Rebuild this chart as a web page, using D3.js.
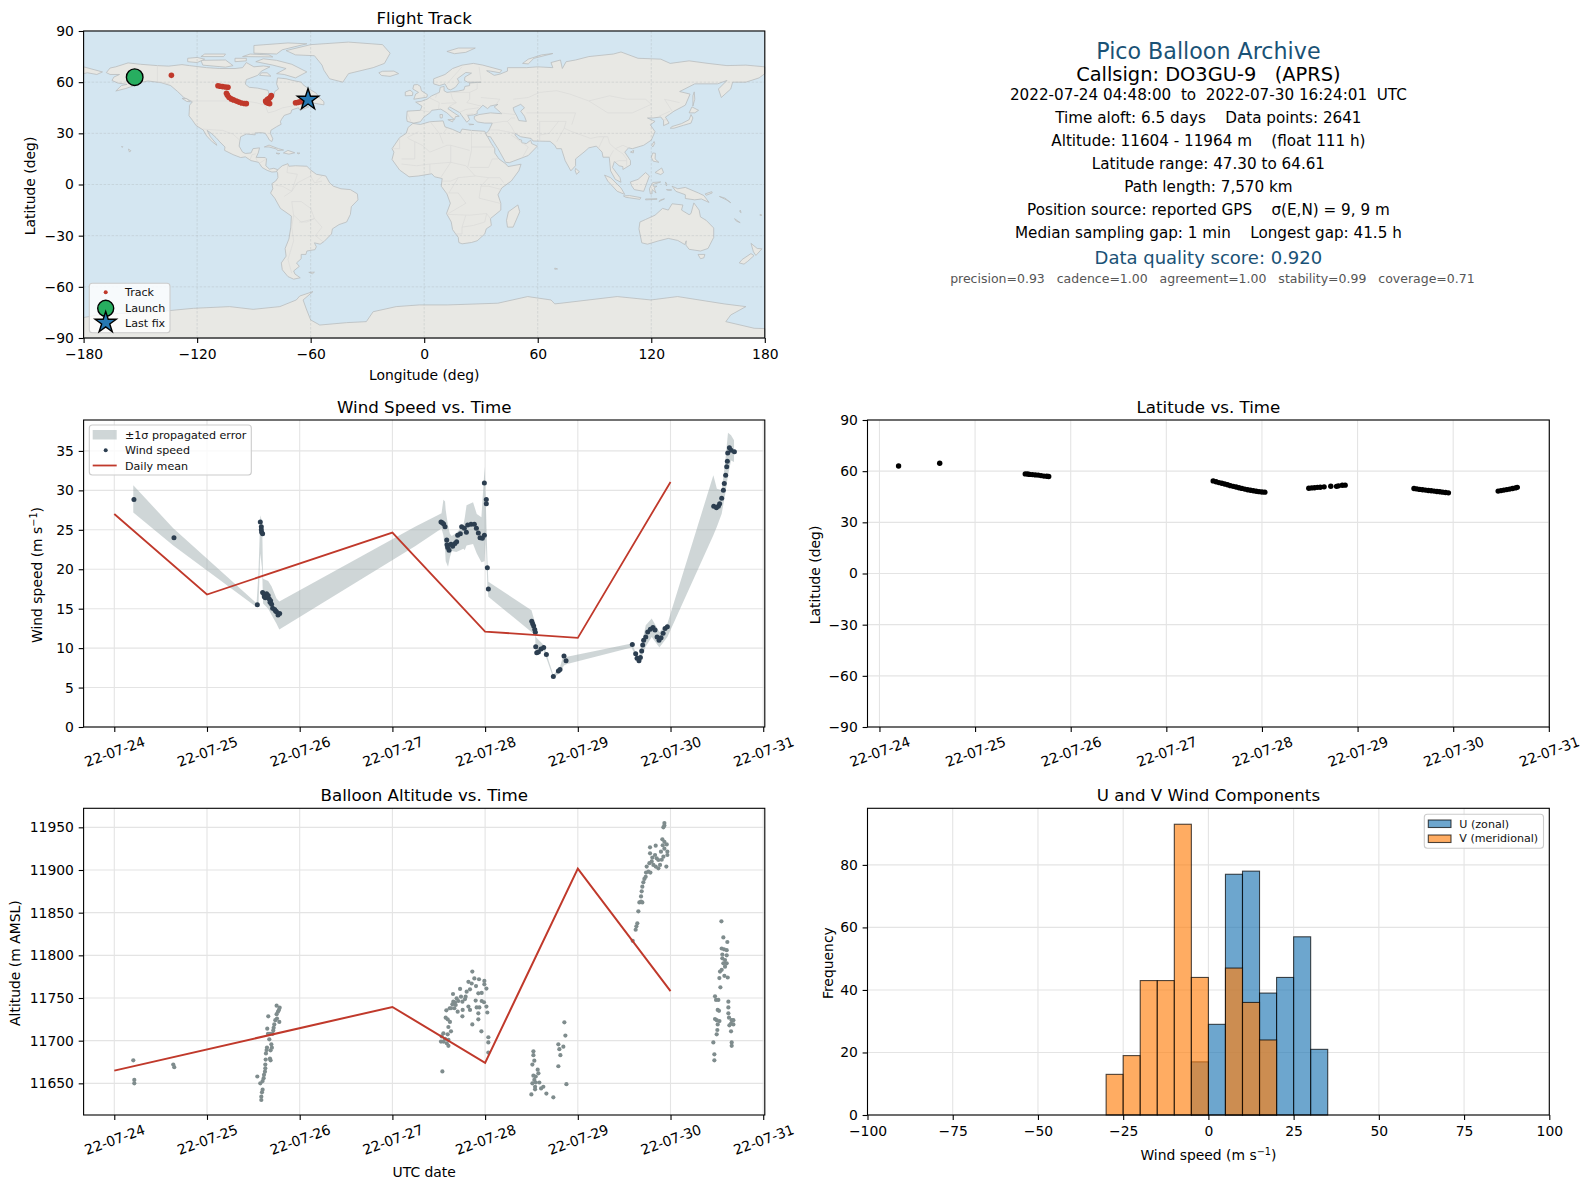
<!DOCTYPE html>
<html>
<head>
<meta charset="utf-8">
<script src="https://cdn.jsdelivr.net/npm/d3@7"></script>
<style>
  html, body { margin: 0; padding: 0; background: #fff; }
  svg { display: block; font-family: "DejaVu Sans", sans-serif; }
  text { white-space: pre; }
</style>
</head>
<body>
<svg id="fig" width="1589" height="1189"></svg>
<script>
// all times are days since 2022-07-24 00:00 UTC
var dayTicks = [0, 1, 2, 3, 4, 5, 6, 7];

// wind speed readings [day, m/s]
var windPoints = [[.212,28.83],[.644,24.0],[1.543,15.5],[1.575,26.0],[1.586,25.4],[1.586,25.0],[1.59,24.7],[1.60,24.5],
  [1.60,17.04],[1.615,16.83],[1.618,16.5],[1.629,16.4],[1.643,16.9],[1.65,16.5],[1.66,16.66],[1.672,16.24],[1.68,15.8],[1.686,16.0],
  [1.697,15.56],[1.708,15.06],[1.73,14.9],[1.74,14.7],[1.75,14.6],[1.766,14.2],[1.784,14.4],
  [3.524,26.0],[3.539,25.9],[3.553,25.75],[3.568,25.4],[3.586,23.7],[3.589,23.1],[3.596,22.75],[3.611,22.4],[3.632,23.17],[3.65,22.9],
  [3.675,23.25],[3.693,23.5],[3.704,24.3],[3.733,24.5],[3.747,25.4],[3.776,25.2],[3.798,24.7],[3.812,25.6],[3.848,25.7],[3.884,25.7],
  [3.906,25.2],[3.927,24.6],[3.945,24.0],[3.97,23.93],[3.992,24.3],[3.992,30.94],[4.013,28.83],[4.013,28.3],[4.024,20.2],[4.035,17.5],
  [4.503,13.4],[4.513,13.1],[4.524,12.8],[4.535,12.35],[4.542,12.0],[4.546,10.16],[4.557,9.4],[4.575,9.5],[4.603,9.9],[4.632,10.07],
  [4.661,9.2],[4.736,6.4],[4.79,7.1],[4.808,7.3],[4.851,9.0],[4.873,8.4],
  [5.588,10.45],[5.624,9.3],[5.639,8.7],[5.66,8.4],[5.675,8.8],[5.689,9.65],[5.70,10.4],[5.71,11.0],[5.733,11.4],[5.754,12.05],
  [5.783,12.4],[5.811,12.6],[5.833,12.3],[5.855,11.4],[5.876,11.0],[5.898,11.3],[5.92,11.9],[5.941,12.5],[5.966,12.7],
  [6.466,28.0],[6.495,27.8],[6.516,28.0],[6.53,28.3],[6.552,29.0],[6.57,30.0],[6.58,30.86],[6.595,31.9],[6.606,33.0],[6.613,33.7],
  [6.617,34.75],[6.635,35.4],[6.653,35.1],[6.689,34.9]];

// propagated error band [day, lower, upper]
var windBand = [[.205,27.2,30.65],[.636,23.0,25.2],[1.535,15.2,15.7],[1.555,15.4,19.5],[1.575,22,26.85],[1.595,20,26],[1.605,15.65,18.8],
  [1.66,15.0,18.5],[1.697,14.2,17.8],[1.75,13.1,16.3],[1.78,12.35,15.9],[3.244,22.9,25.4],[3.53,25.15,27.1],[3.55,24.3,28.8],[3.568,22.5,28.6],[3.575,21,27.5],
  [3.6,20.3,25.5],[3.62,21.5,24.5],[3.64,22.3,24.2],[3.69,22.2,24.6],[3.766,22.6,25.6],[3.78,22.4,26.5],[3.8,23.0,28.1],[3.87,23.2,28.5],[3.91,22.0,27.0],[3.96,20.9,26.6],[3.995,21.0,33.0],
  [4.006,24.0,29.2],[4.024,18.0,21.6],[4.035,16.5,18.4],[4.5,12.05,14.8],[4.54,11.7,13.2],[4.546,9.3,11.4],[4.632,9.7,10.4],[4.736,6.2,6.6],
  [4.81,6.9,7.7],[4.85,7.8,9.3],[4.885,8.0,8.9],[5.58,10.07,10.6],[5.624,8.9,9.5],[5.66,8.0,8.9],[5.733,10.2,12.9],[5.797,11.4,13.75],
  [5.88,10.07,12.05],[5.966,11.4,13.1],[6.462,24.3,31.9],[6.5,25.4,30.2],[6.552,27.05,30.0],[6.588,29.4,33.4],[6.62,31.9,37.3],[6.653,33.8,37.0],[6.685,33.6,36.35]];

var windMean = [[0,27.0],[1,16.8],[3,24.65],[4,12.1],[5,11.3],[6,31.07]];

// balloon altitude readings [day, m]
var altPoints = [[.205,11677],[.216,11654],[.216,11650],[.636,11672],[.647,11669],[1.543,11658],[1.575,11650],[1.586,11630.5],[1.586,11634.4],
  [1.593,11639.5],[1.60,11642.6],[1.60,11652.7],[1.611,11656],[1.615,11660],[1.625,11663.7],[1.629,11667.6],[1.629,11672],[1.633,11677.8],[1.679,11679],
  [1.686,11677],[1.636,11685],[1.643,11689],[1.647,11692],[1.686,11688.7],[1.70,11691.8],[1.694,11695.7],[1.672,11701.6],[1.658,11708],[1.68,11708],
  [1.708,11708],[1.65,11714],[1.715,11712],[1.719,11715],[1.726,11719],[1.661,11728.5],[1.737,11724],[1.755,11726],[1.78,11722],[1.751,11731],
  [1.766,11734],[1.776,11736],[1.784,11738.7],[1.751,11741],
  [3.539,11664],[3.524,11699],[3.532,11705],[3.55,11708.6],[3.55,11699],[3.568,11702],[3.586,11697],[3.604,11694],[3.604,11701],[3.596,11707.4],
  [3.632,11711],[3.604,11716],[3.621,11722],[3.596,11725],[3.575,11727],[3.582,11735.6],[3.618,11738],[3.647,11742.6],[3.657,11745.7],[3.654,11754.7],
  [3.693,11749.6],[3.704,11734],[3.683,11741.8],[3.73,11760.6],[3.74,11751.6],[3.758,11736],[3.755,11728.5],[3.783,11748.8],[3.801,11757.4],[3.837,11760.2],
  [3.82,11740],[3.837,11736],[3.82,11769],[3.862,11781],[3.855,11767],[3.884,11773],[3.902,11764],[3.934,11772],[3.992,11770],[3.992,11766],[4.014,11761],
  [3.927,11755.5],[3.963,11756],[3.898,11747],[3.909,11739],[3.938,11739],[3.963,11746.5],[3.988,11745],[4.014,11740],[4.024,11733],[3.927,11732],
  [3.927,11725],[3.862,11719],[3.96,11711],[4.035,11704],[4.035,11698],[4.035,11686],[3.675,11745],[3.711,11746.5],[3.755,11745.7],[3.79,11751.6],
  [3.668,11738],[3.632,11738],
  [4.521,11687.5],[4.521,11683],[4.531,11676.6],[4.51,11672],[4.567,11666],[4.575,11661.7],[4.521,11659],[4.546,11658],[4.531,11654],[4.546,11651],
  [4.51,11650],[4.585,11651],[4.539,11646],[4.628,11646],[4.604,11644],[4.539,11643],[4.499,11637],[4.661,11638],[4.736,11633.6],[4.855,11721.5],
  [4.866,11706],[4.79,11695.7],[4.844,11693],[4.801,11690],[4.812,11683],[4.79,11670],[4.877,11649],
  [5.592,11817],[5.624,11830],[5.632,11834],[5.642,11837.5],[5.653,11851.6],[5.664,11862],[5.682,11863],[5.696,11862],[5.682,11869],[5.689,11875],
  [5.696,11880.5],[5.707,11885.5],[5.718,11889.5],[5.732,11892],[5.736,11897],[5.761,11898],[5.783,11897],[5.743,11904],[5.772,11908],[5.797,11910],
  [5.815,11906],[5.84,11904],[5.869,11902],[5.887,11906],[5.905,11912],[5.955,11904],[5.804,11914.5],[5.833,11917.6],[5.779,11919.5],[5.779,11926.6],
  [5.84,11928.5],[5.897,11921.5],[5.923,11915.6],[5.966,11917.6],[5.966,11921.5],[5.912,11936],[5.934,11933],[5.916,11929],[5.959,11930],[5.934,11925],
  [5.923,11950],[5.934,11955],[5.934,11952],[5.851,11913.7],[5.869,11911.7],
  [6.549,11839.8],[6.57,11821],[6.613,11815.6],[6.552,11808],[6.577,11807],[6.606,11806],[6.559,11801],[6.606,11800],[6.559,11796.5],[6.588,11794.5],
  [6.606,11790.6],[6.57,11790.6],[6.552,11783],[6.588,11786.7],[6.534,11781],[6.581,11776],[6.617,11774],[6.527,11773.4],[6.538,11762.5],[6.48,11752],
  [6.491,11747.7],[6.516,11747.7],[6.509,11736],[6.523,11735],[6.48,11725.4],[6.498,11724],[6.528,11723],[6.509,11719],[6.505,11712.5],[6.498,11707.4],
  [6.462,11698],[6.473,11684],[6.473,11677],[6.624,11745.7],[6.624,11739],[6.624,11732],[6.631,11727],[6.66,11724],[6.678,11724],[6.653,11720],
  [6.635,11718],[6.678,11719],[6.653,11711],[6.66,11698],[6.66,11694]];

var altMean = [[0,11664.9],[3,11739.5],[4,11674],[5,11901.6],[6,11758]];

// latitude readings [day, deg]
var latPoints = [[.2,63],[.63,64.6],[1.525,58.4],[1.55,58.3],[1.57,58.1],[1.6,58],[1.63,57.8],[1.66,57.7],[1.69,57.4],[1.72,57.1],[1.75,57],[1.77,56.9],
  [3.49,54.3],[3.52,53.8],[3.55,53.3],[3.58,52.9],[3.61,52.5],[3.64,52],[3.67,51.5],[3.7,51.1],[3.73,50.7],[3.76,50.3],[3.79,49.9],[3.82,49.5],[3.85,49.1],[3.88,48.8],[3.91,48.5],[3.94,48.2],[3.97,48],[4.0,47.8],[4.03,47.7],
  [4.49,50],[4.52,50.2],[4.55,50.3],[4.58,50.5],[4.61,50.6],[4.65,50.8],[4.72,51.2],[4.78,51.1],[4.8,51.4],[4.84,51.7],[4.87,51.8],
  [5.59,49.8],[5.62,49.6],[5.65,49.3],[5.68,49.1],[5.71,48.9],[5.74,48.7],[5.77,48.5],[5.8,48.3],[5.83,48.1],[5.86,47.9],[5.89,47.7],[5.92,47.5],[5.95,47.3],
  [6.47,48.3],[6.5,48.6],[6.53,48.9],[6.56,49.2],[6.59,49.5],[6.62,49.8],[6.65,50.2],[6.67,50.5]];

// flight track fixes [lon, lat]
var trackPoints = [[-133.6,64],[-109,57.9],[-107.8,57.6],[-106.5,57.4],[-105,57.2],[-103.7,57],[-104.5,53.5],[-104,52.4],[-103.2,51.2],[-102,50.2],[-100.8,49.6],
  [-99.3,48.9],[-98,48.3],[-96.5,47.8],[-95,47.5],[-94,47.4],[-80.8,52.1],[-81.3,51.2],[-82,50.4],[-82.8,50],[-83.8,49],[-83.5,48.2],[-82.6,47.7],[-81.7,47.4],
  [-68,47.9],[-67,48.1],[-66,48.3],[-65,48.6],[-64.1,48.8],[-63,49.2],[-62,49.5]];
var launchFix = [-153, 62.9];
var lastFix = [-61.4, 49.7];

// histogram counts per 5 m/s bin
var binEdges = [-30, -25, -20, -15, -10, -5, 0, 5, 10, 15, 20, 25, 30, 35];
var uCounts = [0, 0, 0, 0, 0, 17, 29, 77, 78, 39, 44, 57, 21];
var vCounts = [13, 19, 43, 43, 93, 44, 0, 47, 36, 24, 0, 0, 0];

var headerText = [
  'Pico Balloon Archive',
  'Callsign: DO3GU-9   (APRS)',
  '2022-07-24 04:48:00  to  2022-07-30 16:24:01  UTC',
  'Time aloft: 6.5 days    Data points: 2641',
  'Altitude: 11604 - 11964 m    (float 111 h)',
  'Latitude range: 47.30 to 64.61',
  'Path length: 7,570 km',
  'Position source: reported GPS    \u03c3(E,N) = 9, 9 m',
  'Median sampling gap: 1 min    Longest gap: 41.5 h',
  'Data quality score: 0.920',
  'precision=0.93   cadence=1.00   agreement=1.00   stability=0.99   coverage=0.71'
];
var headerY = [51, 74.3, 95.3, 118.3, 141.3, 164.3, 187.3, 210.3, 233.3, 257, 278];
var headerSize = [22.2, 19.4, 15.2, 15.2, 15.2, 15.2, 15.2, 15.2, 15.2, 18, 12.5];
var headerColor = ['#1a5276', '#000', '#000', '#000', '#000', '#000', '#000', '#000', '#000', '#1a5276', '#555'];
var headerShift = [0, 0, 0, 0, 0, 0, 0, 0, 0, 0, 4];

// coastlines, flat lon,lat lists
var landShapes = [
  // north america
  [-168,65.6,-166,68.3,-163,69,-156.5,71.3,-150,70.5,-141,69.7,-135,69.4,-128,70.3,-124,69.7,-115,68.5,-108,68,-100,68,-96,68.5,-94,71.5,-90,69,-85,69.5,-81.5,69,-86,66.5,-88,64,-94,61.5,-94.5,58.8,-92.5,57,-88,56.5,-82.5,55.2,-82,52.5,-79.5,51.3,-79,54.5,-77,56,-78,59,-77.5,62.5,-73,62,-69.5,61,-65,60,-64,58.5,-61.5,56.5,-57,53.5,-56,51.8,-60,50.2,-66,50.2,-69,48,-65,49.2,-64.5,47.8,-65,46.5,-61,45.5,-65.7,43.5,-66.5,45,-67,44.8,-70,43.7,-70.5,41.8,-74,40.5,-75.5,38,-76,36.8,-75.6,35.3,-78,33.9,-81,31.8,-81.3,30,-80,26.8,-80.5,25.2,-81.8,26,-82.8,28,-84,30,-86,30.4,-89.5,30.2,-89.3,29.1,-91,29.3,-94,29.6,-97,28,-97.5,25,-97.8,22.5,-96,19,-94.5,18.2,-91.5,18.5,-90.5,21,-87,21.5,-87.7,18.5,-88.8,15.9,-84,15.8,-83.3,15,-83.7,11,-81.8,9,-79.5,9.5,-77.4,8.7,-78,7.5,-80.5,7.3,-83,8.3,-85.7,10,-87.5,13,-91.5,14,-94.5,16.2,-97,15.8,-101,17.5,-105.5,20,-105.3,22,-108,25,-110,27.5,-112.5,30,-114.7,31.7,-113,28,-110,24,-109.6,23,-112,25,-115,28.5,-116.8,32,-120.5,34.5,-122.5,37.7,-124.3,40.3,-124,46.5,-122.5,48.5,-127,51,-130.3,54.5,-134,58,-139,59.7,-146,60.7,-151,59.5,-153,58,-158,56.2,-163,54.8,-160,58,-157,58.7,-162,59.5,-165,61,-164,63,-161,64.5,-166,64.5],
  // greenland and arctic canada
  [-73,78.5,-60,82,-40,83.5,-22,82,-18,77,-21,71,-27,68.5,-40,65,-43,60,-50,62,-53,67,-54,70,-58,75.5,-68,76],
  [-62,66,-68,62.5,-74,64.5,-78,65,-73,68,-80,70,-89,72,-85,73.7,-78,72.8,-70,70.5],
  [-117,70,-105,68.8,-101,69.7,-105,73,-118,72.8],
  [-125,72,-120,71.5,-116,73.5,-120,74.5,-125,74],
  [-90,77,-78,76.5,-75,79,-62,82.5,-72,83,-90,81.5],
  [-96,75,-80,74.8,-82,76,-92,76.5],
  [-118,75,-106,75,-105,76.5,-116,76.5],
  [-100,72,-94,72.5,-94,74,-100,74],
  [-87,64,-81,63.5,-83,65.5,-86,65.5],
  [-59,47.8,-53,46.7,-53,48.5,-56,51.5,-58,50.5],
  [-128,50.5,-125.5,48.7,-123.5,48.5,-125.5,50.3],
  // caribbean, hawaii
  [-84.5,22,-82,23.1,-77,21,-74.3,20.2,-77.5,19.9,-78,20.8,-82,22],
  [-74.4,18.5,-72,20,-68.4,18.6,-71.5,17.8],
  [-78.3,18.4,-76.3,18.2,-77,17.8],
  [-67.2,18.5,-65.7,18.4,-66.5,18],
  [-156.3,20.8,-155,19.8,-155.7,19,-156,19.7],
  [-160,22.2,-159.3,22.2,-159.5,21.8],
  // south america
  [-77.4,8.7,-75,11,-72,12.2,-71.5,10.7,-68,11,-62,10.7,-60,8.5,-57,6,-52,5,-50,1,-48,-1,-44,-2.5,-39,-3,-35.3,-5.5,-35,-9,-38.5,-13,-39,-17.5,-41,-22,-45,-23.5,-48.5,-26,-49,-29,-53,-33.5,-55,-35,-58,-34.2,-57,-36.5,-57.7,-38.2,-62,-39,-62.5,-41,-65,-41,-65,-43.5,-67.5,-46,-66,-48,-69,-50.7,-68.3,-52.5,-65.5,-54.7,-69,-55.5,-72,-54,-75,-50,-75.5,-46,-73,-42,-73.5,-37.5,-71.5,-32,-70.5,-25,-70.2,-18.5,-76,-14,-79,-8,-81.2,-5,-80,-2.5,-80.5,.5,-78.5,2,-77.3,4,-77.5,7,-78,7.5],
  [-61,-51.5,-58,-51.4,-59,-52.3],
  // africa
  [-6,35.8,-2,35.2,3,36.8,10,37.3,11,33.8,15,32.3,19,30.3,20,32.5,25,31.7,32,31.2,32.5,30,33.5,28,35.5,24,37.3,21,37.3,18.5,39.5,15,43.2,12,44.3,10.5,51.2,11.9,50,8,46,2,41,-2,39,-6,40.5,-11,40.5,-15,35,-20,35.5,-24,32.8,-26,32,-29,28,-33,25,-34,20,-34.8,18.3,-34,18,-31,15,-26.5,14.3,-22,11.8,-17,13.8,-11,12,-5.5,9,-1,9.5,3.5,5.5,4.5,4,6.3,-3,5,-8,4.5,-13,8.5,-17,14.7,-16,19,-17,21,-13,27.5,-9.5,30,-8.5,33.5],
  [49.5,-12,50.5,-16,47,-25,44,-25,43.5,-21,44.5,-16],
  // eurasia
  [-9,37,-9.3,39,-9,43,-2,43.5,-1.2,46,-4.5,48.3,-1.5,48.8,1.5,50,4,52,8,54,8.5,57,10.5,57.5,10.5,55,12,54,18,54.8,21,55.5,21.5,57.5,24,58,24,59.5,30,60,23,60,21.3,61,21.5,63,25,65.3,22,65.7,17.5,62,18.5,60,16.5,57,14,55.5,12.5,56,11,59,8,58,5,59,5,62,11,64.5,15,68,20,70,26,71,31,70,41,67,40,65.5,35,66.5,33,66.7,37,64,40,64.7,44,66.5,44,68.5,54,68.5,60,69,68,68.5,67,71.5,72,73,73,68,75,72,80,73,87,75,100,76.5,104,77.7,113,74,125,73.5,130,71,140,72.5,150,71,160,69.7,170,70,180,69,180,65,177,62.5,170,60,163,60,162,56,157,51,155.5,56,160,61,155,59,143,59,135,54.5,140.5,53,138,46.5,132,43,129.5,41,127.5,39.5,129.4,36,126.5,34.5,126.5,37.5,125,39.6,121,39,118,39,122,37,119.5,35,122,31,120,26,116,23,110,21,108,21.5,106,19,109,14,109,11.5,105,8.8,105,10.5,103,11,100.5,13.5,99.5,10,103.5,4,104,1.3,101,3,98.5,8,97.8,16,94.5,16,94,19,91,22.5,87,21.5,85,19.5,80,15,80,11,77.5,8,74.5,14,72.8,20,72.5,21,70,21,69,23,66.5,25.3,57.5,25.5,56.5,27,51,28,48,30,48,29,50,26.5,51.5,26,51.5,24.5,54,24,56.3,26,56.8,24,59.8,22.5,55,17,45,12.8,43,13,39,21,35,28,34.3,28,33,28.5,32.6,30,34,31.3,36,36,32,36,28,36.7,26.5,38.5,26.5,40,29,41,35,42,41,41.5,38,44.5,37,45.5,39,47,35,46,33.5,44.5,31,46.5,28,43,28,41.5,26,40.8,23,40.5,24,38,22.5,36.5,19.5,41,19,42,13.5,45.5,12.5,44.5,16,41.8,18.5,40,16.5,39.8,16,38,12,42,8.8,44.2,4,43.5,3,42,-.2,39.5,-2,36.8,-5.5,36],
  [-180,69,-175,67.5,-170,66,-173,64.5,-178,65.5,-180,65],
  // european and russian islands
  [-24,65.5,-22,66.4,-16,66.5,-13.5,65,-18,63.4,-22.5,63.9],
  [12,78,18,80,27,80,22,77.5,16,76.7],
  [52,71,55,70.7,58,74,68,76.8,62,76,55,73.5],
  [-5.5,50,1.4,51.2,1.7,52.7,-1.5,55,-2,57.5,-3.5,58.6,-5.5,58.4,-6,56,-3,54,-4.5,53,-5,51.6],
  [-10,52,-6.2,52.2,-6,54,-7.5,55.3,-10,54.2],
  [12.5,38,15.5,38.2,15,36.7],
  [8.3,41,9.7,41,9.5,39,8.5,39],
  [23.5,35.5,26.2,35.2,24,35],
  // asia pacific
  [80,9.5,82,7.5,80.5,6,79.8,8],
  [130,33,131,34,136,35.7,140,38,141,41,142,39,141,36,137,34.7,132,33],
  [140,42,141.5,45.5,145,43.5,143,42],
  [142,46,143,50,142.7,54.3,142,52],
  [120.2,23,121.5,25.2,121.8,24,120.8,22],
  [109,19,110.7,20,110.5,18.5],
  [120,16,120.8,18.5,122.2,18.3,122,15,124,13,121,13.7],
  [122,7,125.5,9.7,126.5,7,125,5.8],
  [95.3,5.5,98.5,4,104,-2,106,-5.8,102,-4,97,2],
  [105.3,-6.7,108.5,-6.5,114.5,-7.7,114,-8.7,106.5,-7.5],
  [109,1.5,113,3,117,7,119,5,117.7,1,116,-4,111,-3,109.5,-.5],
  [119.5,-5.5,119,-2.5,120.8,1.2,125,1.5,121,0,121,-1,123,-1,121.5,-2,122.5,-5,120.5,-3,120.4,-5.5],
  [131,-1,134,-2.5,138,-1.7,145,-5,147.8,-6.5,150.5,-10.5,146.5,-8.5,143,-9,138,-8.2,138,-6,133,-4],
  [148.5,-5.5,152,-4.2,152.2,-5,149,-6.3],
  [156,-7,160,-9.2,162,-10.7,159,-8],
  [124,-10,127,-8.4,125,-9],
  [117,-8.5,123,-8.3,123,-8.7,117,-9],
  [127.5,1.5,128.3,0,128,-.8],
  [128,-3,130.8,-3.2,129,-3.4],
  [167,-15,167.5,-16.5,166.8,-16],
  [164,-20,167,-22.4,165,-21.5],
  [177.5,-17.5,178.5,-18,177.5,-18.2],
  // australasia
  [114,-22,113.5,-26,115,-34.2,118,-35,124,-33,129,-31.6,134,-32.8,137.7,-35.2,138.5,-33,138.3,-35.5,140,-38,146,-39,150,-37.5,153,-31,153,-25.5,149,-21,146,-19,145.3,-15,142.5,-10.8,141,-17,140,-17.7,136,-15,136.7,-12,131,-11.3,129,-15,126,-14,122,-18,117,-20.5],
  [144.7,-41,148.3,-41,147.8,-43,146,-43.5],
  [172.7,-34.5,176,-37.5,178.5,-37.7,175.3,-41.6,174,-39.5],
  [172.7,-40.5,174.3,-41.7,171,-45,169,-46.7,166.5,-46,168,-44],
  [69,-49,70.5,-49.5,69,-49.7],
  // antarctica
  [-180,-90,-180,-78,-170,-76,-160.6,-75.6,-141,-74.6,-122,-72.6,-102.8,-71.6,-90.4,-73.2,-76.3,-71.6,-67.6,-67.7,-65.8,-65.4,-58.8,-62.8,-64,-67.7,-62.3,-73,-60,-79.4,-55.2,-82.4,-41,-81,-30.6,-80.4,-27,-74.6,-14.8,-71.6,-2.5,-70.6,12.5,-70.6,38.9,-69.6,54.7,-65.7,67,-67.7,69,-70,72.3,-69.6,102,-65.7,119.8,-67.7,133.9,-65.7,158.5,-70,170,-71.6,162,-76.5,159.4,-80.4,174.4,-84.3,180,-84.5,180,-90]
];
var innerSeas = [
  [47,45,51,47,53,45,51,43,53,40,54,37,50,37.5,49,40,47.5,43]
];
var borderLines = [
  [-141,69.7,-141,60.3],[-141,60.3,-135,59],[-123,49,-95,49,-89,48,-84,46.5,-82.5,42,-79,43,-74.7,45,-70,46,-67.5,47],
  [-117,32.5,-106.5,31.7,-101,29.5,-97.5,26],[-92,14.5,-91,17.5,-89,18],[-89,15.8,-88,13.2],[-83.5,15,-87,12.5],
  [-72,12,-72.5,7,-67,6,-70,-4,-74,-7],[-60,8.5,-60,5,-67,1,-70,-4],[-70,-10,-65,-10,-60,-14,-58,-20,-54,-25,-57.5,-30,-53.5,-33.5],
  [-69,-18,-70,-25,-69,-33,-72,-44,-70,-52],[-69,-18,-65,-22,-58,-20],[-78.5,-.5,-75,-1,-70,-4],[-70,-10,-69,-18],[-58,-20,-62,-22,-66,-22],
  [-54,5,-57,2],[-60,5,-58,1,-54,2],
  [-9,42,-7,37],[-2,43.5,3,42.5],[2.5,51,8,48,7.5,44],[6,51,7,54],[14,54,15,50,17,48,13.5,46],[9,47.5,17,48],[14.5,54,24,54,24,50,22.5,48,30,46],[24,54,28,56,28,60],
  [12,59,20,69],[29,69,30,61],[18,42,22,44,29,45],[22,41,26,41.5],[30,51,40,50,38,47],
  [40,42,48,41],[44,37,46,39,48,39],[36,36,42,37,44,37],[35,32,39,32,48,30],[44,37,46,34,48,30],[46,29,55,22,52,16],[61,37,61,30,61,25],[61,37,66,37,71,37,75,37],[71,37,66,30,61,29],
  [75,37,74,33,70,25],[74,33,78,31,88,27,92,28,97,28],[47,50,55,51,61,54,70,55,77,53,87,49],[54,42,66,42,71,42,80,42],[87,49,97,42,110,42,120,47,117,50,107,50,98,52,87,49],[80,42,78,35],[131,43,127,50,135,48],[124,40,130,43],[126,38,129,38],
  [97,28,98,24,101,21,105,23,108,21.5],[92,21,95,28],[101,21,105,18,107,15,107,11],[98,16,100,20],[100,13,103,14,107,14],
  [-9,27.5,-3,31],[-8.5,27,-1,23,3,19,12,23,14,23],[-17,21,-13,21,-13,27],[3,37,8,30,10,24],[12,33,10,30],[25,32,25,20,24,15,23,10],[25,22,37,22],[24,20,14,23,14,13],[14,13,3,12,-4,11,-12,12],[-5,25,-5,15,-12,15],
  [3,12,3,6],[14,13,9,4.5],[14,13,22,11,27,5,34,4,40,4,42,1],[34,10,36,15,39,15],[34,10,24,10],[34,4,30,-1,34,-1,41,-3],[30,-1,29,-8,40,-11],[13,-5,18,-5,22,-11,12,-17.5,24,-18,33,-17],
  [22,-18,20,-25,20,-29,16,-29],[20,-25,26,-24,32,-22,33,-17,35,-20],[27,5,18,4,14,2,9.5,2],[18,4,13,-5]
];

var margins = { leftX0: 83.6, leftX1: 764.8, rightX0: 867.5, rightX1: 1549.3,
                row1: [31, 338], row2: [420, 727], row3: [808.3, 1115] };

var svg = d3.select('#fig');
svg.append('defs').append('filter').attr('id', 'soft')
    .append('feGaussianBlur').attr('stdDeviation', 0.35);

var gridColor = '#e4e4e4';
var dayOrigin = Date.UTC(2022, 6, 24);

function dayToDate(d) { return new Date(dayOrigin + d * 864e5); }
function pairs(flat) {
    var out = [];
    for (var i = 0; i < flat.length; i += 2) { out.push([flat[i], flat[i + 1]]); }
    return out;
}
function minusSign(s) { return String(s).replace('-', '\u2212'); }

function panel(x0, x1, row, xScale, yScale, xVals, yVals, xFmt, title, rotated) {
    var y0 = row[0], y1 = row[1];
    var g = svg.append('g');
    var grid = g.append('g');
    grid.selectAll('.gx').data(xVals).enter().append('line')
        .attr('x1', function (d) { return xScale(d); }).attr('x2', function (d) { return xScale(d); })
        .attr('y1', y0).attr('y2', y1);
    grid.selectAll('.gy').data(yVals).enter().append('line')
        .attr('y1', function (d) { return yScale(d); }).attr('y2', function (d) { return yScale(d); })
        .attr('x1', x0).attr('x2', x1);
    grid.selectAll('line').attr('stroke', gridColor).attr('stroke-width', 1.1);

    var plot = g.append('g');
    var top = g.append('g');

    var ax = top.append('g').attr('transform', 'translate(0,' + y1 + ')')
        .call(d3.axisBottom(xScale).tickValues(xVals).tickSize(4.9).tickPadding(6.3).tickFormat(xFmt));
    var ay = top.append('g').attr('transform', 'translate(' + x0 + ',0)')
        .call(d3.axisLeft(yScale).tickValues(yVals).tickSize(4.9).tickPadding(4.8).tickFormat(minusSign));
    [ax, ay].forEach(function (a) {
        a.select('.domain').remove();
        a.selectAll('.tick line').attr('stroke', '#000').attr('stroke-width', 1.1);
        a.selectAll('text').attr('font-size', 13.9).attr('font-family', '"DejaVu Sans"').attr('fill', '#000');
    });
    if (rotated) {
        ax.selectAll('text').attr('y', 0).attr('dy', 0)
            .attr('text-anchor', 'middle').attr('dominant-baseline', 'central')
            .attr('transform', 'translate(0,24.5) rotate(-20)');
    }
    top.append('rect').attr('x', x0).attr('y', y0).attr('width', x1 - x0).attr('height', y1 - y0)
        .attr('fill', 'none').attr('stroke', '#000').attr('stroke-width', 1.1);
    top.append('text').attr('x', (x0 + x1) / 2).attr('y', y0 - 7).attr('text-anchor', 'middle')
        .attr('font-size', 16.67).text(title);
    return { plot: plot, top: top };
}

function axisLabelX(cx, y, parts) {
    var t = svg.append('text').attr('x', cx).attr('y', y).attr('text-anchor', 'middle').attr('font-size', 13.9);
    writeParts(t, parts);
}
function axisLabelY(x, cy, parts) {
    var t = svg.append('text').attr('transform', 'translate(' + x + ',' + (cy + 1.5) + ') rotate(-90)')
        .attr('text-anchor', 'middle').attr('font-size', 13.9);
    writeParts(t, parts);
}
function writeParts(t, parts) {
    t.append('tspan').text(parts[0]);
    if (parts[1]) {
        t.append('tspan').attr('dy', -5).attr('font-size', 9.7).text(parts[1]);
        t.append('tspan').attr('dy', 5).text(parts[2]);
    }
}
function legendBox(parent, x0, y0, x1, y1) {
    parent.append('rect').attr('x', x0).attr('y', y0).attr('width', x1 - x0).attr('height', y1 - y0)
        .attr('rx', 3).attr('fill', '#fff').attr('fill-opacity', 0.8)
        .attr('stroke', '#ccc').attr('stroke-width', 1.1);
}
function legendText(parent, x, y, s) {
    parent.append('text').attr('x', x).attr('y', y).attr('dominant-baseline', 'central')
        .attr('font-size', 11.1).attr('fill', '#111').text(s);
}

var timeFmt = function (d) { return d3.utcFormat('%y-%m-%d')(d); };
var dateTicks = dayTicks.map(dayToDate);

// ---- flight track map
var mapX = d3.scaleLinear().domain([-180, 180]).range([margins.leftX0, margins.leftX1]);
var mapY = d3.scaleLinear().domain([-90, 90]).range([margins.row1[1], margins.row1[0]]);
var mapPanel = panel(margins.leftX0, margins.leftX1, margins.row1, mapX, mapY,
    [-180, -120, -60, 0, 60, 120, 180], [-90, -60, -30, 0, 30, 60, 90], minusSign, 'Flight Track', false);
var mapLine = d3.line().x(function (d) { return mapX(d[0]); }).y(function (d) { return mapY(d[1]); });
var mp = mapPanel.plot;

mp.append('rect').attr('x', margins.leftX0).attr('y', margins.row1[0])
    .attr('width', margins.leftX1 - margins.leftX0).attr('height', margins.row1[1] - margins.row1[0])
    .attr('fill', '#d4e6f1');
var soft = mp.append('g').attr('filter', 'url(#soft)');
soft.selectAll('.land').data(landShapes).enter().append('path')
    .attr('d', function (d) { return mapLine(pairs(d)) + 'Z'; })
    .attr('fill', '#e8e8e4').attr('stroke', '#b9bdbe').attr('stroke-width', 0.8).attr('stroke-linejoin', 'round');
soft.selectAll('.sea').data(innerSeas).enter().append('path')
    .attr('d', function (d) { return mapLine(pairs(d)) + 'Z'; })
    .attr('fill', '#d4e6f1').attr('stroke', '#b9bdbe').attr('stroke-width', 0.8);
soft.selectAll('.border').data(borderLines).enter().append('path')
    .attr('d', function (d) { return mapLine(pairs(d)); })
    .attr('fill', 'none').attr('stroke', '#d8d9d7').attr('stroke-width', 0.6);
var gratX = [-120, -60, 0, 60, 120], gratY = [-60, -30, 0, 30, 60];
mp.selectAll('.gratx').data(gratX).enter().append('line')
    .attr('x1', function (d) { return mapX(d); }).attr('x2', function (d) { return mapX(d); })
    .attr('y1', margins.row1[0]).attr('y2', margins.row1[1]);
mp.selectAll('.graty').data(gratY).enter().append('line')
    .attr('y1', function (d) { return mapY(d); }).attr('y2', function (d) { return mapY(d); })
    .attr('x1', margins.leftX0).attr('x2', margins.leftX1);
mp.selectAll('line').attr('stroke', '#a8b0b4').attr('stroke-opacity', 0.45)
    .attr('stroke-width', 0.7).attr('stroke-dasharray', '2.5,1.5');

mp.selectAll('.trk').data(trackPoints).enter().append('circle')
    .attr('cx', function (d) { return mapX(d[0]); }).attr('cy', function (d) { return mapY(d[1]); })
    .attr('r', 2.8).attr('fill', '#c0392b');
var launchColor = '#27ae60', starColor = '#2678b2';
mp.append('circle').attr('cx', mapX(launchFix[0])).attr('cy', mapY(launchFix[1])).attr('r', 8.3)
    .attr('fill', launchColor).attr('stroke', '#000').attr('stroke-width', 1.4);
var starPath = d3.symbol().type(d3.symbolStar).size(140);
mp.append('path').attr('d', starPath).attr('transform', 'translate(' + mapX(lastFix[0]) + ',' + mapY(lastFix[1]) + ')')
    .attr('fill', starColor).attr('stroke', '#000').attr('stroke-width', 1.4);

legendBox(mapPanel.top, 89.3, 283.3, 170, 332.7);
mapPanel.top.append('circle').attr('cx', 105.7).attr('cy', 292.3).attr('r', 2).attr('fill', '#c0392b');
mapPanel.top.append('circle').attr('cx', 105.7).attr('cy', 308.3).attr('r', 8)
    .attr('fill', launchColor).attr('stroke', '#000').attr('stroke-width', 1.4);
mapPanel.top.append('path').attr('d', starPath).attr('transform', 'translate(105.7,322.7)')
    .attr('fill', starColor).attr('stroke', '#000').attr('stroke-width', 1.4);
legendText(mapPanel.top, 125, 292.3, 'Track');
legendText(mapPanel.top, 125, 308.3, 'Launch');
legendText(mapPanel.top, 125, 323.4, 'Last fix');
axisLabelX((margins.leftX0 + margins.leftX1) / 2, 380, ['Longitude (deg)']);
axisLabelY(35, (margins.row1[0] + margins.row1[1]) / 2, ['Latitude (deg)']);

// ---- header text block
svg.selectAll('.hdr').data(headerText).enter().append('text')
    .attr('x', function (d, i) { return (margins.rightX0 + margins.rightX1) / 2 + headerShift[i]; })
    .attr('y', function (d, i) { return headerY[i]; })
    .attr('text-anchor', 'middle').attr('dominant-baseline', 'central')
    .attr('font-size', function (d, i) { return headerSize[i]; })
    .attr('fill', function (d, i) { return headerColor[i]; })
    .text(function (d) { return d; });

// ---- wind speed vs time
var timeXLeft = d3.scaleUtc().domain([dayToDate(-0.331), dayToDate(7.017)]).range([margins.leftX0, margins.leftX1]);
var windY = d3.scaleLinear().domain([0, 38.92]).range([margins.row2[1], margins.row2[0]]);
var windPanel = panel(margins.leftX0, margins.leftX1, margins.row2, timeXLeft, windY,
    dateTicks, [0, 5, 10, 15, 20, 25, 30, 35], timeFmt, 'Wind Speed vs. Time', true);
var bandArea = d3.area()
    .x(function (d) { return timeXLeft(dayToDate(d[0])); })
    .y0(function (d) { return windY(d[1]); })
    .y1(function (d) { return windY(d[2]); });
windPanel.plot.append('path').attr('d', bandArea(windBand))
    .attr('fill', '#95a5a6').attr('fill-opacity', 0.45);
windPanel.plot.selectAll('.wnd').data(windPoints).enter().append('circle')
    .attr('cx', function (d) { return timeXLeft(dayToDate(d[0])); })
    .attr('cy', function (d) { return windY(d[1]); })
    .attr('r', 2.5).attr('fill', '#2c3e50');
windPanel.plot.append('path')
    .attr('d', d3.line().x(function (d) { return timeXLeft(dayToDate(d[0])); }).y(function (d) { return windY(d[1]); })(windMean))
    .attr('fill', 'none').attr('stroke', '#c0392b').attr('stroke-width', 1.8);
legendBox(windPanel.top, 89.3, 425, 251.3, 475);
windPanel.top.append('rect').attr('x', 92.7).attr('y', 430).attr('width', 24).attr('height', 9.5).attr('fill', '#95a5a6').attr('fill-opacity', 0.45);
windPanel.top.append('circle').attr('cx', 105.7).attr('cy', 450.3).attr('r', 2).attr('fill', '#2c3e50');
windPanel.top.append('line').attr('x1', 92.7).attr('x2', 116.7).attr('y1', 465.5).attr('y2', 465.5).attr('stroke', '#c0392b').attr('stroke-width', 1.8);
legendText(windPanel.top, 125, 435, '\u00b11\u03c3 propagated error');
legendText(windPanel.top, 125, 450.3, 'Wind speed');
legendText(windPanel.top, 125, 466, 'Daily mean');
axisLabelY(42, (margins.row2[0] + margins.row2[1]) / 2, ['Wind speed (m s', '\u22121', ')']);

// ---- latitude vs time
var timeXRight = d3.scaleUtc().domain([dayToDate(-0.125), dayToDate(7.005)]).range([margins.rightX0, margins.rightX1]);
var latY = d3.scaleLinear().domain([-90, 90]).range([margins.row2[1], margins.row2[0]]);
var latPanel = panel(margins.rightX0, margins.rightX1, margins.row2, timeXRight, latY,
    dateTicks, [-90, -60, -30, 0, 30, 60, 90], timeFmt, 'Latitude vs. Time', true);
latPanel.plot.selectAll('.lat').data(latPoints).enter().append('circle')
    .attr('cx', function (d) { return timeXRight(dayToDate(d[0])); })
    .attr('cy', function (d) { return latY(d[1]); })
    .attr('r', 2.7).attr('fill', '#000');
axisLabelY(820, (margins.row2[0] + margins.row2[1]) / 2, ['Latitude (deg)']);

// ---- altitude vs time
var altY = d3.scaleLinear().domain([11612.9, 11972.3]).range([margins.row3[1], margins.row3[0]]);
var altPanel = panel(margins.leftX0, margins.leftX1, margins.row3, timeXLeft, altY,
    dateTicks, [11650, 11700, 11750, 11800, 11850, 11900, 11950], timeFmt, 'Balloon Altitude vs. Time', true);
altPanel.plot.selectAll('.alt').data(altPoints).enter().append('circle')
    .attr('cx', function (d) { return timeXLeft(dayToDate(d[0])); })
    .attr('cy', function (d) { return altY(d[1]); })
    .attr('r', 2.1).attr('fill', '#7f8c8d');
altPanel.plot.append('path')
    .attr('d', d3.line().x(function (d) { return timeXLeft(dayToDate(d[0])); }).y(function (d) { return altY(d[1]); })(altMean))
    .attr('fill', 'none').attr('stroke', '#c0392b').attr('stroke-width', 2);
axisLabelX((margins.leftX0 + margins.leftX1) / 2, 1177, ['UTC date']);
axisLabelY(20, (margins.row3[0] + margins.row3[1]) / 2, ['Altitude (m AMSL)']);

// ---- wind component histogram
var histX = d3.scaleLinear().domain([-100, 100]).range([margins.rightX0, margins.rightX1]);
var histY = d3.scaleLinear().domain([0, 98.1]).range([margins.row3[1], margins.row3[0]]);
var histPanel = panel(margins.rightX0, margins.rightX1, margins.row3, histX, histY,
    [-100, -75, -50, -25, 0, 25, 50, 75, 100], [0, 20, 40, 60, 80], minusSign, 'U and V Wind Components', false);
function drawBars(counts, color) {
    histPanel.plot.append('g').selectAll('rect')
        .data(counts.map(function (c, i) { return { c: c, i: i }; }).filter(function (d) { return d.c > 0; }))
        .enter().append('rect')
        .attr('x', function (d) { return histX(binEdges[d.i]); })
        .attr('y', function (d) { return histY(d.c); })
        .attr('width', function (d) { return histX(binEdges[d.i + 1]) - histX(binEdges[d.i]); })
        .attr('height', function (d) { return histY(0) - histY(d.c); })
        .attr('fill', color).attr('fill-opacity', 0.65)
        .attr('stroke', '#000').attr('stroke-opacity', 0.7).attr('stroke-width', 1.1);
}
drawBars(uCounts, '#1f77b4');
drawBars(vCounts, '#ff7f0e');
legendBox(histPanel.top, 1424.3, 814.3, 1543.5, 848.3);
histPanel.top.append('rect').attr('x', 1428.3).attr('y', 820).attr('width', 22.7).attr('height', 7.5)
    .attr('fill', '#1f77b4').attr('fill-opacity', 0.65).attr('stroke', '#000').attr('stroke-opacity', 0.7).attr('stroke-width', 1.1);
histPanel.top.append('rect').attr('x', 1428.3).attr('y', 835).attr('width', 22.7).attr('height', 7.5)
    .attr('fill', '#ff7f0e').attr('fill-opacity', 0.65).attr('stroke', '#000').attr('stroke-opacity', 0.7).attr('stroke-width', 1.1);
legendText(histPanel.top, 1459.3, 824, 'U (zonal)');
legendText(histPanel.top, 1459.3, 838.7, 'V (meridional)');
axisLabelX((margins.rightX0 + margins.rightX1) / 2, 1160, ['Wind speed (m s', '\u22121', ')']);
axisLabelY(833, (margins.row3[0] + margins.row3[1]) / 2, ['Frequency']);
</script>
</body>
</html>
